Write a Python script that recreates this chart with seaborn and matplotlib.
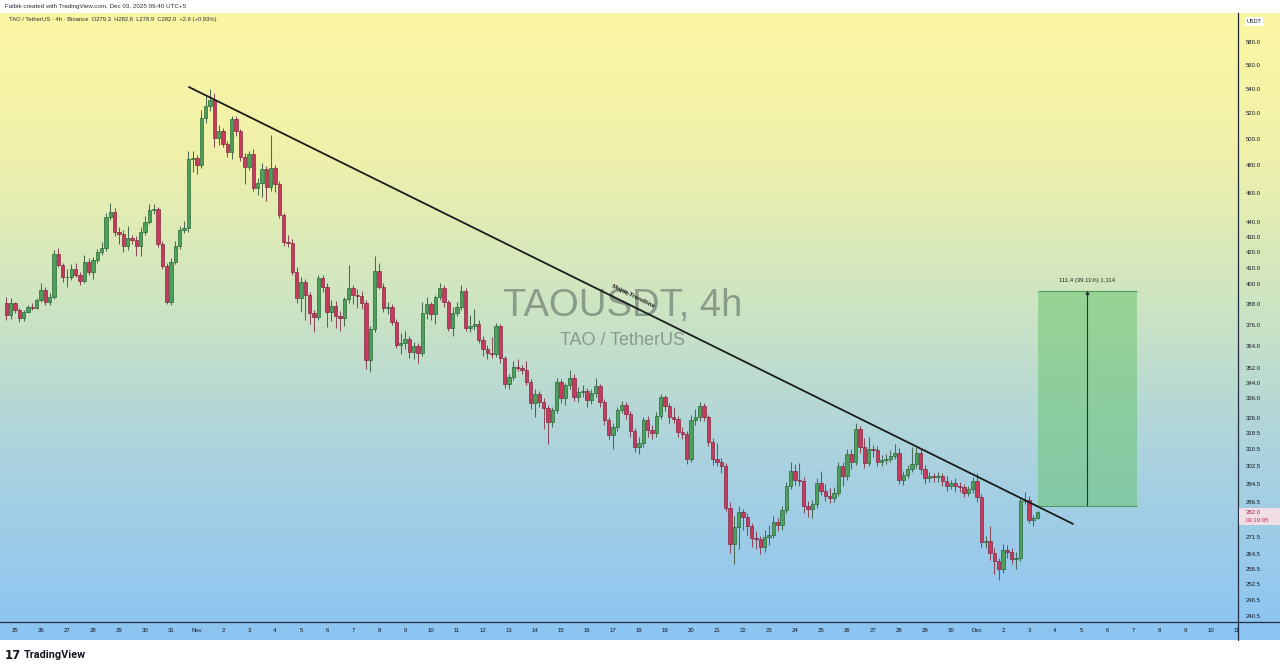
"""
TAOUSDT 4h chart (TradingView style) rebuilt with seaborn + matplotlib.
Candles, trendline, price-range box and the TradingView chrome.
"""

import numpy as np
import pandas as pd
import matplotlib
matplotlib.use("Agg")
import matplotlib.pyplot as plt
from matplotlib.lines import Line2D
from matplotlib.patches import Rectangle
from matplotlib.ticker import FixedLocator, FixedFormatter, NullLocator
import seaborn as sns

# ─── Data ─────────────────────────────────────────────────────────────────────
# 4h candles from Oct 24 16:00 to Dec 3 08:00, six per row (one day)

opens = [
    388.5, 381.6, 388.5, 384.6, 379.7, 383.6,
    386.5, 386.0, 390.5, 396.6, 389.0, 392.5,
    419.2, 412.1, 404.3, 404.6, 409.3, 405.7,
    402.0, 414.2, 407.8, 415.2, 420.0, 422.8,
    443.8, 446.9, 433.7, 432.0, 423.9, 429.4,
    428.2, 424.5, 433.3, 440.4, 448.3, 448.8,
    425.4, 411.6, 389.5, 414.2, 424.5, 434.9,
    436.0, 484.7, 485.5, 480.4, 516.0, 525.8,
    530.6, 500.4, 505.8, 496.3, 490.3, 515.2,
    505.8, 486.6, 479.1, 488.6, 463.5, 467.5,
    477.2, 464.7, 478.4, 466.6, 444.9, 427.1,
    426.0, 407.8, 391.5, 401.6, 393.5, 382.6,
    380.7, 403.7, 398.5, 383.6, 387.0, 381.0,
    380.0, 391.0, 397.8, 393.5, 393.0, 388.5,
    356.0, 373.5, 408.0, 398.5, 386.0, 386.5,
    377.5, 364.5, 365.5, 368.0, 360.5, 364.0,
    359.8, 383.0, 388.0, 382.0, 392.0, 397.8,
    389.0, 374.0, 383.0, 386.5, 396.0, 374.0,
    375.0, 376.5, 367.3, 362.0, 360.0, 359.5,
    375.0, 357.0, 343.5, 347.0, 352.5, 352.0,
    350.5, 344.5, 333.5, 338.0, 334.0, 330.7,
    324.0, 330.0, 344.5, 336.0, 342.5, 346.5,
    336.5, 339.0, 339.5, 335.0, 338.5, 342.0,
    334.0, 325.0, 317.5, 321.5, 330.0, 332.5,
    328.0, 319.5, 311.5, 313.5, 325.0, 320.0,
    318.5, 327.0, 336.5, 332.0, 326.5, 325.5,
    319.0, 318.0, 306.0, 325.0, 326.5, 332.0,
    326.5, 314.0, 306.0, 304.5, 302.5, 284.0,
    268.5, 275.5, 282.0, 280.0, 276.0, 271.0,
    270.5, 267.5, 271.5, 272.5, 278.0, 276.5,
    283.0, 293.5, 300.5, 296.5, 296.0, 284.5,
    283.5, 285.5, 295.0, 291.5, 289.0, 288.0,
    290.5, 302.5, 298.0, 308.5, 304.5, 320.5,
    311.5, 304.0, 310.5, 310.0, 304.5, 305.5,
    306.0, 307.5, 309.0, 296.5, 298.5, 301.5,
    303.5, 309.0, 301.5, 297.0, 298.0, 297.5,
    298.0, 296.0, 293.5, 295.0, 293.5, 293.0,
    290.5, 292.0, 296.0, 288.5, 269.5, 270.0,
    265.0, 261.5, 258.5, 266.0, 265.5, 262.5,
    263.0, 287.0, 287.5, 278.5, 279.3,
]

highs = [
    392.0, 391.5, 389.5, 386.0, 384.5, 387.5,
    388.5, 391.5, 401.0, 398.5, 394.5, 421.5,
    423.0, 413.5, 409.5, 412.5, 413.5, 407.5,
    418.5, 416.5, 417.0, 422.5, 427.0, 446.5,
    453.0, 449.5, 437.0, 434.5, 437.5, 431.5,
    431.0, 436.5, 444.5, 452.5, 452.5, 450.5,
    427.5, 413.5, 416.5, 427.5, 437.5, 440.5,
    490.5, 491.0, 488.0, 522.5, 534.0, 540.0,
    536.0, 510.5, 508.5, 498.5, 517.5, 517.5,
    507.5, 489.5, 491.0, 492.5, 470.5, 481.5,
    479.5, 503.0, 480.5, 468.5, 446.5, 431.5,
    428.5, 410.5, 404.5, 403.5, 395.5, 384.5,
    405.5, 405.5, 400.5, 390.5, 390.0, 384.0,
    392.5, 412.0, 399.5, 397.0, 396.0, 390.5,
    375.0, 418.0, 413.5, 401.0, 389.5, 388.0,
    379.0, 371.0, 372.5, 369.5, 366.0, 365.5,
    389.0, 392.0, 389.5, 393.5, 400.5, 399.5,
    390.5, 386.5, 389.0, 399.5, 397.5, 381.5,
    385.0, 378.5, 369.5, 364.5, 369.0, 377.0,
    376.5, 358.5, 348.5, 355.5, 356.5, 353.5,
    355.5, 346.0, 340.5, 339.5, 336.0, 332.5,
    331.5, 346.5, 346.0, 344.0, 350.8, 348.5,
    341.5, 342.5, 341.0, 340.5, 346.5, 343.5,
    335.5, 326.5, 323.5, 331.5, 334.5, 334.0,
    329.5, 321.0, 316.5, 326.5, 327.0, 322.5,
    329.0, 338.0, 337.5, 333.5, 331.5, 327.0,
    321.5, 319.5, 327.5, 330.5, 334.0, 333.5,
    327.5, 316.0, 313.5, 306.5, 304.0, 286.5,
    280.5, 284.5, 283.5, 281.5, 277.5, 274.0,
    272.0, 274.5, 276.5, 280.5, 279.5, 284.5,
    295.5, 304.5, 303.5, 304.0, 297.5, 287.0,
    287.5, 297.0, 300.5, 294.5, 292.5, 293.0,
    304.5, 304.5, 310.5, 310.5, 323.5, 322.0,
    316.0, 316.5, 312.5, 312.0, 308.0, 308.5,
    310.0, 313.0, 311.0, 300.5, 303.0, 311.5,
    311.5, 310.5, 303.0, 300.0, 299.5, 300.0,
    299.5, 298.0, 296.5, 297.0, 295.5, 294.5,
    293.5, 297.5, 299.5, 290.0, 272.0, 276.0,
    267.0, 263.0, 268.5, 268.0, 267.0, 265.5,
    288.5, 291.0, 289.0, 281.0, 282.6,
]

lows = [
    378.7, 379.0, 383.0, 377.5, 378.0, 382.5,
    384.5, 385.0, 389.0, 387.5, 387.5, 391.0,
    410.5, 401.5, 398.5, 402.5, 404.5, 399.5,
    401.0, 405.5, 403.5, 413.5, 418.5, 421.0,
    441.5, 430.5, 425.5, 420.5, 421.5, 425.5,
    417.5, 417.5, 431.5, 438.5, 445.5, 423.5,
    409.5, 388.0, 387.5, 412.5, 422.5, 432.5,
    433.5, 475.5, 473.5, 478.0, 512.0, 521.5,
    494.0, 495.5, 493.5, 486.5, 484.5, 502.5,
    483.5, 466.5, 476.5, 461.5, 458.5, 457.5,
    454.5, 461.5, 460.5, 442.5, 424.5, 423.5,
    405.5, 388.5, 383.5, 378.5, 376.5, 371.5,
    378.5, 395.5, 374.5, 378.0, 374.0, 372.5,
    375.0, 388.5, 388.0, 385.5, 385.0, 351.5,
    349.5, 372.0, 397.0, 383.5, 382.0, 376.0,
    362.5, 359.5, 362.0, 357.5, 356.5, 354.5,
    358.5, 379.0, 378.5, 376.5, 390.5, 386.5,
    372.5, 369.5, 381.0, 384.5, 372.5, 372.0,
    373.0, 365.5, 358.5, 356.5, 357.5, 358.0,
    354.5, 341.0, 340.5, 345.5, 350.0, 348.5,
    342.5, 330.5, 326.5, 331.5, 320.5, 313.0,
    321.5, 328.5, 333.5, 332.5, 340.5, 334.5,
    334.0, 336.5, 331.5, 333.0, 336.5, 331.5,
    322.5, 315.5, 310.5, 319.5, 328.5, 325.5,
    316.5, 309.5, 308.5, 311.5, 316.5, 315.5,
    316.5, 325.5, 329.5, 323.5, 323.5, 316.5,
    315.5, 303.5, 304.5, 322.5, 324.5, 324.5,
    312.0, 303.0, 302.5, 299.5, 282.5, 265.0,
    260.5, 266.5, 274.5, 272.5, 267.5, 266.5,
    264.5, 265.5, 268.0, 271.0, 274.0, 274.5,
    281.5, 292.0, 294.0, 293.5, 281.5, 280.0,
    279.5, 284.0, 289.5, 287.0, 286.0, 286.5,
    289.0, 293.5, 296.5, 301.5, 303.0, 309.0,
    302.0, 302.5, 307.0, 302.5, 302.5, 303.5,
    304.5, 306.0, 294.5, 294.0, 297.0, 300.0,
    302.0, 299.0, 294.5, 295.5, 295.5, 295.5,
    293.5, 291.5, 292.0, 291.0, 291.0, 288.5,
    289.0, 290.5, 286.5, 267.5, 267.0, 262.0,
    256.5, 254.2, 257.0, 263.0, 260.5, 258.5,
    261.5, 285.5, 277.5, 276.0, 278.9,
]

closes = [
    381.6, 388.5, 384.6, 379.7, 383.6, 386.5,
    386.0, 390.5, 396.6, 389.0, 392.5, 419.2,
    412.1, 404.3, 404.6, 409.3, 405.7, 402.0,
    414.2, 407.8, 415.2, 420.0, 422.8, 443.8,
    446.9, 433.7, 432.0, 423.9, 429.4, 428.2,
    424.5, 433.3, 440.4, 448.3, 448.8, 425.4,
    411.6, 389.5, 414.2, 424.5, 434.9, 436.0,
    484.7, 485.5, 480.4, 516.0, 525.8, 530.6,
    500.4, 505.8, 496.3, 490.3, 515.2, 505.8,
    486.6, 479.1, 488.6, 463.5, 467.5, 477.2,
    464.7, 478.4, 466.6, 444.9, 427.1, 426.0,
    407.8, 391.5, 401.6, 393.5, 382.6, 380.7,
    403.7, 398.5, 383.6, 387.0, 381.0, 380.0,
    391.0, 397.8, 393.5, 393.0, 388.5, 356.0,
    373.5, 408.0, 398.5, 386.0, 386.5, 377.5,
    364.5, 365.5, 368.0, 360.5, 364.0, 359.8,
    383.0, 388.0, 382.0, 392.0, 397.8, 389.0,
    374.0, 383.0, 386.5, 396.0, 374.0, 375.0,
    376.5, 367.3, 362.0, 360.0, 359.5, 375.0,
    357.0, 343.5, 347.0, 352.5, 352.0, 350.5,
    344.5, 333.5, 338.0, 334.0, 330.7, 324.0,
    330.0, 344.5, 336.0, 342.5, 346.5, 336.5,
    339.0, 339.5, 335.0, 338.5, 342.0, 334.0,
    325.0, 317.5, 321.5, 330.0, 332.5, 328.0,
    319.5, 311.5, 313.5, 325.0, 320.0, 318.5,
    327.0, 336.5, 332.0, 326.5, 325.5, 319.0,
    318.0, 306.0, 325.0, 326.5, 332.0, 326.5,
    314.0, 306.0, 304.5, 302.5, 284.0, 268.5,
    275.5, 282.0, 280.0, 276.0, 271.0, 270.5,
    267.5, 271.5, 272.5, 278.0, 276.5, 283.0,
    293.5, 300.5, 296.5, 296.0, 284.5, 283.5,
    285.5, 295.0, 291.5, 289.0, 288.0, 290.5,
    302.5, 298.0, 308.5, 304.5, 320.5, 311.5,
    304.0, 310.5, 310.0, 304.5, 305.5, 306.0,
    307.5, 309.0, 296.5, 298.5, 301.5, 303.5,
    309.0, 301.5, 297.0, 298.0, 297.5, 298.0,
    296.0, 293.5, 295.0, 293.5, 293.0, 290.5,
    292.0, 296.0, 288.5, 269.5, 270.0, 265.0,
    261.5, 258.5, 266.0, 265.5, 262.5, 263.0,
    287.0, 287.5, 278.5, 279.3, 282.0,
]

# x axis: days since Oct 25 (one label per day)
day_labels = ["25", "26", "27", "28", "29", "30", "31",
              "Nov", "2", "3", "4", "5", "6", "7", "8", "9", "10",
              "11", "12", "13", "14", "15", "16", "17", "18", "19", "20",
              "21", "22", "23", "24", "25", "26", "27", "28", "29", "30",
              "Dec", "2", "3", "4", "5", "6", "7", "8", "9", "10", "11"]

price_ticks = [580, 560, 540, 520, 500, 480, 460, 440, 430, 420, 410, 400,
               388, 376, 364, 352, 344, 336, 326, 318.5, 310.5, 302.5, 294.5,
               286.5, 271.5, 264.5, 258.5, 252.5, 246.5, 240.5]

# "Major Trendline" end points (day, price)
trend_days = [6.69, 40.69]
trend_prices = [541.3, 277.0]

# price range tool
box_days = [39.35, 43.15]
box_prices = [284.8, 396.2]
box_label = "111.4 (39.11%) 1,114"

last_price = "282.0"
countdown = "03:19:05"

# ─── Frame ────────────────────────────────────────────────────────────────────

sns.set_theme(style="white")
plt.rcParams["font.family"] = ["Liberation Sans", "DejaVu Sans"]

times = pd.date_range("2025-10-24 16:00", periods=len(closes), freq="4h")
df = pd.DataFrame({"open": opens, "high": highs, "low": lows, "close": closes})
df["day"] = ((times - pd.Timestamp("2025-10-25")) / pd.Timedelta(days=1)).to_numpy()

W, H = 1280, 669
fig = plt.figure(figsize=(W / 100, H / 100), dpi=100)
fig.patch.set_facecolor("white")


def fx(px):
    return px / W


def fy(py):
    return 1 - py / H


# gradient background (chart + axes strips)
bg = fig.add_axes([0, fy(640), 1, (640 - 13) / H])
stops = np.array([0.0, 0.22, 0.46, 0.70, 1.0])
cols = np.array([[251, 246, 163], [240, 241, 170], [206, 229, 194],
                 [172, 211, 222], [139, 196, 243]]) / 255
yy = np.linspace(0, 1, 400)
img = np.stack([np.interp(yy, stops, cols[:, k]) for k in range(3)], axis=1)
bg.imshow(img[:, None, :], aspect="auto", extent=[0, 1, 0, 1])
bg.axis("off")

ax = fig.add_axes([0, fy(622), fx(1238), 609 / H])
ax.set_facecolor("none")
ax.set_yscale("log")

# ─── Candles ──────────────────────────────────────────────────────────────────

up = (df["close"] >= df["open"]).to_numpy()
face = np.where(up, "#4d9f5c", "#c63a5e")
edge = np.where(up, "#20602f", "#7e1f3a")
wick = np.where(up, "#4b6b55", "#8a4a5c")

ax.vlines(df["day"], df["low"], df["high"], colors=wick, lw=0.75, zorder=2)
body_lo = np.minimum(df["open"], df["close"])
body_h = np.maximum((df["close"] - df["open"]).abs(), 0.45)
ax.bar(df["day"], body_h, bottom=body_lo, width=0.12, color=face,
       edgecolor=edge, linewidth=0.45, zorder=3)

# ─── Trendline ────────────────────────────────────────────────────────────────

sns.lineplot(x=trend_days, y=trend_prices, ax=ax, color="#1c1c1c", lw=1.3, zorder=4)
ax.text(23.77, 392.5, "Major Trendline", rotation=-26.3, rotation_mode="anchor",
        ha="center", va="center", fontsize=4.6, fontweight="bold", color="#222222",
        zorder=5)

# ─── Price range box ──────────────────────────────────────────────────────────

ax.fill_between(box_days, box_prices[0], box_prices[1], color="#64c369",
                alpha=0.5, lw=0, zorder=1)
ax.hlines(box_prices, box_days[0], box_days[1], colors="#4f9a63", lw=0.8, zorder=1)
mid = (box_days[0] + box_days[1]) / 2
ax.annotate("", xy=(mid, box_prices[1]), xytext=(mid, box_prices[0]),
            arrowprops=dict(arrowstyle="-|>", color="#24352a", lw=0.8,
                            mutation_scale=5, shrinkA=0, shrinkB=0), zorder=5)
ax.text(mid, 402.5, box_label, ha="center", va="center", fontsize=4.3,
        color="#1d2a22")

# ─── Watermark ────────────────────────────────────────────────────────────────

ax.text(0.503, 0.519, "TAOUSDT, 4h", transform=ax.transAxes, ha="center",
        va="center", fontsize=27.5, color="#5e6b66", alpha=0.6, zorder=0.5)
ax.text(0.503, 0.463, "TAO / TetherUS", transform=ax.transAxes, ha="center",
        va="center", fontsize=13, color="#5e6b66", alpha=0.6, zorder=0.5)

# ─── Axes ─────────────────────────────────────────────────────────────────────

ax.set_xlim(-15 / 26, 1223 / 26)
ax.set_ylim(238.3, 606.4)

ax.set_xticks(range(len(day_labels)), day_labels)
ax.tick_params(axis="x", length=0, pad=4, labelsize=4.3, labelcolor="#131722")

ax.yaxis.tick_right()
ax.yaxis.set_major_locator(FixedLocator(price_ticks))
ax.yaxis.set_major_formatter(FixedFormatter([f"{p:.1f}" for p in price_ticks]))
ax.yaxis.set_minor_locator(NullLocator())
ax.tick_params(axis="y", length=0, pad=5.5, labelsize=4.3, labelcolor="#131722")
ax.set_xlabel("")
ax.set_ylabel("")

for s in ["top", "left"]:
    ax.spines[s].set_visible(False)
for s in ["right", "bottom"]:
    ax.spines[s].set_color("#232b3e")
    ax.spines[s].set_linewidth(0.9)

# separators running through the axis strips
fig.add_artist(Line2D([fx(1238), fx(1238)], [fy(622), fy(640)], color="#232b3e", lw=0.9))
fig.add_artist(Line2D([fx(1238), 1], [fy(622), fy(622)], color="#232b3e", lw=0.9))

# "USDT" currency tag
fig.text(fx(1254), fy(21.5), "USDT", ha="center", va="center", fontsize=4,
         color="#131722", bbox=dict(boxstyle="square,pad=0.35", fc="white", ec="none"))

# last price tag with countdown
fig.add_artist(Rectangle((fx(1238.5), fy(525)), fx(41), 17 / H,
                         transform=fig.transFigure, fc="#f1dde4", ec="none"))
fig.text(fx(1246), fy(512.5), last_price, ha="left", va="center", fontsize=4.3,
         color="#9c2a46")
fig.text(fx(1246), fy(520.5), countdown, ha="left", va="center", fontsize=4.3,
         color="#c0304f")

# ─── Header / footer text ─────────────────────────────────────────────────────

fig.text(fx(5), fy(6.5), "Falbik created with TradingView.com, Dec 03, 2025 09:40 UTC+5",
         ha="left", va="center", fontsize=4.5, color="#2a2e39")
fig.text(fx(9), fy(20), "TAO / TetherUS · 4h · Binance  O279.3  H282.6  L278.9  C282.0  +2.6 (+0.93%)",
         ha="left", va="center", fontsize=4.2, color="#2a2e39")

fig.text(fx(5), fy(655.5), "17", ha="left", va="center", fontsize=8.5,
         fontweight="heavy", color="#131722", family="DejaVu Sans")
fig.text(fx(24), fy(655.5), "TradingView", ha="left", va="center", fontsize=7.8,
         fontweight="bold", color="#131722", family="Roboto")

plt.savefig("out.png", dpi=100)
print("Chart saved → out.png")
